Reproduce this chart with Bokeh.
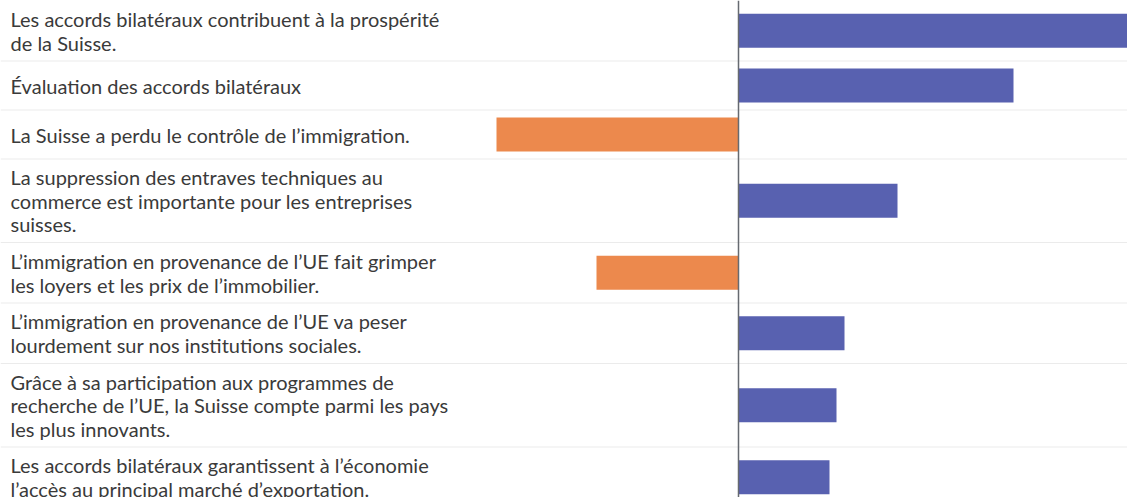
from bokeh.plotting import figure
from bokeh.models import Range1d, Span, ColumnDataSource
from bokeh.core.properties import value
from bokeh.embed import file_html
from bokeh.resources import INLINE

# ---- data ----
labels = [
    "Les accords bilatéraux contribuent à la prospérité\nde la Suisse.",
    "Évaluation des accords bilatéraux",
    "La Suisse a perdu le contrôle de l’immigration.",
    "La suppression des entraves techniques au\ncommerce est importante pour les entreprises\nsuisses.",
    "L’immigration en provenance de l’UE fait grimper\nles loyers et les prix de l’immobilier.",
    "L’immigration en provenance de l’UE va peser\nlourdement sur nos institutions sociales.",
    "Grâce à sa participation aux programmes de\nrecherche de l’UE, la Suisse compte parmi les pays\nles plus innovants.",
    "Les accords bilatéraux garantissent à l’économie\nl’accès au principal marché d’exportation.",
]
values = [42.0, 27.5, -24.2, 15.9, -14.2, 10.6, 9.8, 9.1]

BLUE = "#5861b0"
ORANGE = "#ec894d"

# ---- layout (row heights from number of label lines) ----
LINE_H = 23
rows_center, rows_bottom = [], []
y = 0
for lab in labels:
    n = lab.count("\n") + 1
    h = max(49, LINE_H * n + 14.5)
    rows_center.append(y + h / 2)
    y += h
    rows_bottom.append(y)

W, H = 1127, 497
x_start = -73.8
x_end = x_start + W / 10.0

p = figure(width=W, height=H, output_backend="svg", toolbar_location=None,
           x_range=Range1d(x_start, x_end), y_range=Range1d(H, 0),
           min_border=0, outline_line_color=None)
p.xaxis.visible = False
p.yaxis.visible = False
p.xgrid.visible = False
p.ygrid.visible = False

# separators
for yb in rows_bottom[:-1]:
    p.add_layout(Span(location=yb, dimension="width", line_color="#ebebeb", line_width=1))

src = ColumnDataSource(dict(
    y=rows_center,
    left=[min(0, v) for v in values],
    right=[max(0, v) for v in values],
    color=[BLUE if v >= 0 else ORANGE for v in values],
    label=labels,
    lx=[x_start + 1.0] * len(labels),
))

p.hbar(y="y", left="left", right="right", height=34, fill_color="color",
       line_color=None, source=src)

p.add_layout(Span(location=0, dimension="height", line_color="#666a70", line_width=1.5))

p.text(x="lx", y="y", text="label", source=src, text_font=value("Lato"),
       text_font_size="20px", text_color="#3a3a3a", text_baseline="middle",
       text_align="left", text_line_height=0.98)

open("out.html", "w").write(file_html(p, INLINE))
